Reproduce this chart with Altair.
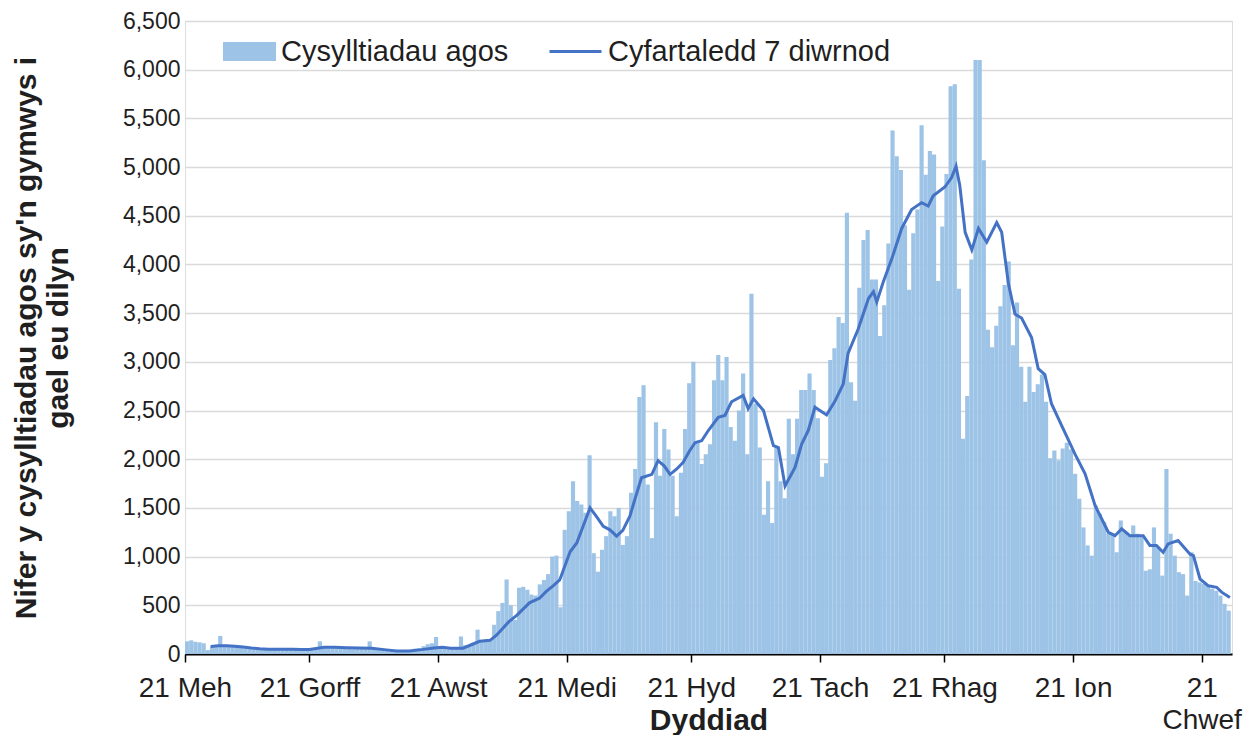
import altair as alt
import pandas as pd

# Daily close contacts eligible for follow-up (one value per day, day 0 = first day shown)
bars = [
    130, 140, 125, 120, 110, 40,
    80, 90, 185, 90, 80, 85, 75, 70, 60, 65, 55, 50, 60, 45, 50, 55, 45, 50, 55, 45, 50, 40, 50, 45,
    40, 50, 130, 70, 60, 70, 65, 60, 55, 70, 50, 60, 55, 65, 130, 60, 50, 55, 45, 40, 35, 30, 35, 40,
    30, 55, 60, 80, 100, 110, 175,
    55, 55, 60, 55, 60, 180, 90, 85, 95, 250, 130, 140, 135, 300, 440, 525, 765, 500, 350, 680, 690,
    660, 610, 600, 715, 760, 820, 1000, 1010,
    480, 1275, 1465, 1775, 1570, 1535, 1450, 2040, 1035, 845, 1070, 1210, 1465, 1415, 1500, 1120,
    1210, 1655, 1900, 2640, 2760, 1740, 1190, 2380, 1830, 2310, 2100, 1830, 1415, 1860, 2310, 2780, 3000,
    2190, 1950, 2050, 2155, 2810, 3070, 2810, 3050, 2330, 2190, 2500, 2880, 2050, 3700, 2570, 2120,
    1430, 1775, 1345, 2120, 1775, 1600, 2415, 2050, 2415, 2710, 2710, 2880, 2710,
    2420, 1820, 1960, 3020, 3140, 3460, 3400, 4530, 2790, 2600, 3760, 4250, 4355, 3845, 3845, 3265,
    3580, 4215, 5375, 5110, 4970, 4400, 3740, 4320, 4565, 5430, 4920, 5165, 5130, 3830, 4390,
    4930, 5830, 5850, 3750, 2210, 2650, 4050, 6100, 6100, 5070, 3330, 3150, 3370, 3570, 3790, 4030,
    3170, 3610, 2950, 2590, 2950, 2690, 2770, 2870, 2590, 2010, 2090, 1990, 2110, 2170, 2100,
    1850, 1595, 1300, 1115, 1010, 1525, 1440, 1355, 1235, 1235, 1045, 1370, 1250, 1215, 1320, 1235,
    1200, 855, 870, 1300, 1095, 805, 1900, 1235, 1010, 840, 820, 600, 1045, 750, 735, 720, 700, 670,
    650, 600, 515, 445,
]

# 7-day average at these day positions
avg_day = [
    6.2, 8, 10, 12, 14, 16, 18, 20, 22, 24, 26, 28, 30,
    32, 33.5, 36, 39, 42, 45, 48, 51, 54, 57, 60,
    62, 64, 67, 69, 71, 73.5, 75, 76.6, 78, 80, 83, 85.5, 87, 88.7, 90.3,
    92.8, 94.4, 96, 97.6, 99, 100.8, 102.4, 104, 105.5, 107.2, 108.5, 110, 112.5, 114, 115.5, 116.9,
    118.5, 120, 121.5, 122.9,
    124.5, 126.1, 128.5, 130.1, 131.7, 134.5, 135.7, 137, 139.4, 141.8, 143, 144.6, 147, 148.6,
    150.2, 151.8,
    154.6, 156.6, 158.6, 159.8, 162.2, 164.7, 165.9, 166.7, 168.3, 170.3, 172.7, 175.1, 177.5, 179.1,
    180.3, 183.1,
    184.7, 185.8, 186.7, 188, 189.6, 191.2, 193.2, 195.6, 196.8, 198.4, 200, 201.6, 204, 205.6,
    207.2, 208.8, 211.2, 214.5,
    216.9, 219.3, 222.5, 224.1, 225.7, 227.7, 230.9, 232.5, 234.1, 235.7, 236.9, 239.3, 242.2, 243,
    244.6, 246.6, 248.6, 249.8, 251.8,
]
avg_val = [
    78, 85, 85, 80, 72, 62, 55, 50, 50, 48, 48, 47, 46,
    60, 70, 70, 65, 62, 60, 45, 32, 32, 45, 62,
    68, 60, 60, 95, 130, 140, 190, 265, 330, 400, 525, 575, 640, 700, 760,
    1050, 1140, 1320, 1500, 1420, 1310, 1275, 1210, 1270, 1415, 1600, 1810, 1845, 1985, 1930, 1845,
    1900, 1965, 2080, 2170,
    2190, 2295, 2430, 2450, 2590, 2655, 2520, 2620, 2500, 2140, 2120, 1725, 1915, 2155,
    2295, 2535,
    2455, 2595, 2770, 3090, 3335, 3650, 3720, 3615, 3825, 4055, 4370, 4565, 4635, 4600,
    4705, 4795,
    4890, 5010, 4810, 4330, 4150, 4370, 4230, 4430, 4330, 3810, 3490, 3450, 3250, 2930,
    2870, 2570, 2350, 2050,
    1850, 1525, 1250, 1215, 1285, 1215, 1215, 1115, 1115, 1045, 1130, 1165, 1025, 1010,
    770, 700, 685, 635, 580,
]

tick_days = [0, 30, 61, 92, 122, 153, 183, 214, 245]
tick_labels = ["21 Meh", "21 Gorff", "21 Awst", "21 Medi", "21 Hyd", "21 Tach",
               "21 Rhag", "21 Ion", "21\nChwef"]
y_ticks = list(range(0, 6501, 500))

bar_name = "Cysylltiadau agos"
line_name = "Cyfartaledd 7 diwrnod"
y_title = ["Nifer y cysylltiadau agos sy'n gymwys i", "gael eu dilyn"]

df_bar = pd.DataFrame({"day": list(range(len(bars))), "value": bars})
df_bar["end"] = df_bar["day"] + 1
df_bar["series"] = bar_name
df_line = pd.DataFrame({"day": avg_day, "value": avg_val})
df_line["series"] = line_name


def js_label(lab):
    if "\n" in lab:
        return "[" + ",".join("'" + p + "'" for p in lab.split("\n")) + "]"
    return "'" + lab + "'"


label_expr = "''"
for v, lab in reversed(list(zip(tick_days, tick_labels))):
    label_expr = f"datum.value == {v} ? {js_label(lab)} : ({label_expr})"

FONT = "Liberation Sans"
TXT = "#1f1f1f"

x_scale = alt.Scale(domain=[0, 252.3], nice=False, zero=False)
y_scale = alt.Scale(domain=[0, 6500], nice=False)

x_axis = alt.Axis(
    values=tick_days, labelExpr=label_expr, title="Dyddiad", grid=False,
    labelFontSize=28, labelColor=TXT, labelFont=FONT, labelPadding=12,
    labelOverlap=False, labelFlush=False, labelBound=False, labelLineHeight=32,
    domainColor="#000000", domainWidth=2, tickColor="#000000", tickWidth=1.5, tickSize=8,
    titleFont=FONT, titleFontSize=30, titleFontWeight="bold", titleColor=TXT,
    titleY=75, titleBaseline="alphabetic",
)
y_axis = alt.Axis(
    values=y_ticks, format=",.0f", title=y_title, domain=False, ticks=False,
    labelFontSize=23, labelColor=TXT, labelFont=FONT, labelPadding=5,
    gridColor="#d9d9d9", gridWidth=1.5,
    titleFont=FONT, titleFontSize=30, titleFontWeight="bold", titleColor=TXT,
    titleLineHeight=32, titleX=-144,
)

bar_layer = alt.Chart(df_bar).mark_bar(strokeWidth=0).encode(
    x=alt.X("day:Q", scale=x_scale, axis=x_axis),
    x2="end:Q",
    y=alt.Y("value:Q", scale=y_scale, axis=y_axis),
    y2=alt.datum(0),
    fill=alt.Fill(
        "series:N",
        scale=alt.Scale(domain=[bar_name], range=["#9dc3e6"]),
        legend=alt.Legend(
            title=None, orient="none", legendX=37, legendY=3, padding=0,
            symbolType="M-1,-0.36L1,-0.36L1,0.36L-1,0.36Z", symbolSize=2809,
            labelFontSize=29, labelFont=FONT, labelColor=TXT, labelOffset=4,
            labelLimit=600,
        ),
    ),
)

line_layer = alt.Chart(df_line).mark_line(strokeWidth=3).encode(
    x=alt.X("day:Q", scale=x_scale, axis=x_axis),
    y=alt.Y("value:Q", scale=y_scale, axis=y_axis),
    stroke=alt.Stroke(
        "series:N",
        scale=alt.Scale(domain=[line_name], range=["#4472c4"]),
        legend=alt.Legend(
            title=None, orient="none", legendX=363, legendY=3, padding=0,
            symbolType="stroke", symbolSize=2704, symbolStrokeWidth=3,
            labelFontSize=29, labelFont=FONT, labelColor=TXT, labelOffset=5,
            labelLimit=600,
        ),
    ),
)

chart = alt.layer(bar_layer, line_layer).properties(
    width=1047, height=633,
    autosize=alt.AutoSizeParams(type="none"),
    padding={"left": 177, "top": 13, "right": 20, "bottom": 81},
).configure_view(stroke=None).configure(font=FONT)

chart.save("out.html", embed_options={"renderer": "svg", "actions": False})
